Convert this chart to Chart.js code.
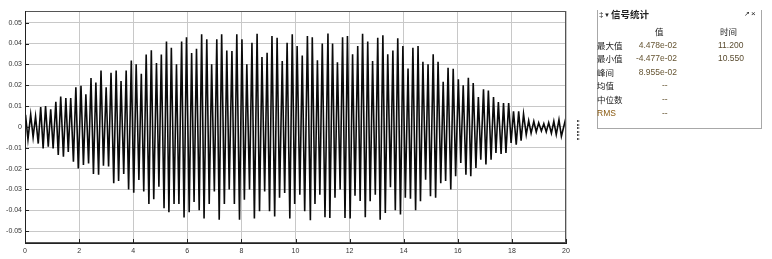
<!DOCTYPE html>
<html>
<head>
<meta charset="utf-8">
<script src="https://cdn.jsdelivr.net/npm/chart.js@4.4.1/dist/chart.umd.min.js"></script>
<style>
  body { margin: 0; background: #fff; width: 772px; height: 259px; position: relative; overflow: hidden; font-family: "Liberation Sans", Arial, sans-serif; }
  #grafik { position: absolute; left: 0; top: 0; }
  .panel { position: absolute; left: 597px; top: 10px; width: 165px; height: 119px; border: 1px solid #a8a8a8; border-top: none; box-sizing: border-box; }
  .t { position: absolute; font-size: 8.5px; line-height: 10px; white-space: nowrap; color: #222; }
  .cjk { font-family: "Noto Sans CJK SC", sans-serif; }
  .nilai { color: #665533; text-align: right; width: 50px; }
  .waktu { color: #5a4c30; }
  .tri { position: absolute; left: 577px; width: 0; height: 0; border-top: 1.5px solid transparent; border-bottom: 1.5px solid transparent; border-left: 3px solid #222; }
</style>
</head>
<body>
<canvas id="grafik" width="772" height="259"></canvas>

<!-- panel statistik sinyal -->
<div class="panel"></div>
<div class="t" style="left:599px; top:10px; font-size:8px;">‡</div>
<div class="t" style="left:604px; top:10px; font-size:6px;">▼</div>
<div class="t cjk" style="left:611px; top:9px; font-size:9.5px; font-weight:bold; line-height:11px;">信号统计</div>
<div class="t" style="left:744px; top:9px; font-size:7px;">↗</div>
<div class="t" style="left:751px; top:9px; font-size:8px;">×</div>

<div class="t cjk" style="left:655px; top:26px;">值</div>
<div class="t cjk" style="left:720px; top:26px;">时间</div>

<div class="t cjk" style="left:597px; top:40px;">最大值</div>
<div class="t nilai" style="left:627px; top:40px;">4.478e-02</div>
<div class="t waktu" style="left:718px; top:40px;">11.200</div>

<div class="t cjk" style="left:597px; top:53px;">最小值</div>
<div class="t nilai" style="left:627px; top:53px;">-4.477e-02</div>
<div class="t waktu" style="left:718px; top:53px;">10.550</div>

<div class="t cjk" style="left:597px; top:67px;">峰间</div>
<div class="t nilai" style="left:627px; top:67px;">8.955e-02</div>

<div class="t cjk" style="left:597px; top:80px;">均值</div>
<div class="t" style="left:662px; top:80px; color:#665533;">--</div>

<div class="t cjk" style="left:597px; top:94px;">中位数</div>
<div class="t" style="left:662px; top:94px; color:#665533;">--</div>

<div class="t" style="left:597px; top:108px; color:#8a5a10;">RMS</div>
<div class="t" style="left:662px; top:108px; color:#665533;">--</div>

<!-- penanda kecil di kanan plot -->
<div class="tri" style="top:120px;"></div>
<div class="tri" style="top:123.6px;"></div>
<div class="tri" style="top:127.2px;"></div>
<div class="tri" style="top:130.8px;"></div>
<div class="tri" style="top:134.4px;"></div>
<div class="tri" style="top:138px;"></div>

<script>
// DATA: puncak dan lembah sinyal
const waktuPuncak = [0.02, 0.21, 0.39, 0.58, 0.76, 0.95, 1.14, 1.32, 1.51, 1.69,
    1.88, 2.07, 2.25, 2.44, 2.62, 2.81, 3.00, 3.18, 3.37, 3.55,
    3.74, 3.93, 4.11, 4.30, 4.48, 4.67, 4.86, 5.04, 5.23, 5.41,
    5.60, 5.79, 5.97, 6.16, 6.34, 6.53, 6.72, 6.90, 7.09, 7.27,
    7.46, 7.65, 7.83, 8.02, 8.20, 8.39, 8.58, 8.76, 8.95, 9.13,
    9.32, 9.51, 9.69, 9.88, 10.06, 10.25, 10.44, 10.62, 10.81, 10.99,
    11.20, 11.37, 11.55, 11.74, 11.92, 12.11, 12.30, 12.48, 12.67, 12.85,
    13.04, 13.23, 13.41, 13.60, 13.78, 13.97, 14.16, 14.34, 14.53, 14.71,
    14.90, 15.09, 15.27, 15.46, 15.64, 15.83, 16.02, 16.20, 16.39, 16.57,
    16.76, 16.95, 17.13, 17.32, 17.50, 17.69, 17.88, 18.06, 18.25, 18.43,
    18.62, 18.81, 18.99, 19.18, 19.36, 19.55, 19.74, 20.00];

const nilaiPuncak = [0.0058, 0.006, 0.005, 0.0095, 0.010, 0.0085, 0.012, 0.0146, 0.0138, 0.0138,
    0.019, 0.0197, 0.0157, 0.0234, 0.0213, 0.027, 0.019, 0.026, 0.027, 0.022,
    0.027, 0.0318, 0.030, 0.0255, 0.0347, 0.0368, 0.0307, 0.0347, 0.041, 0.038,
    0.030, 0.041, 0.043, 0.0355, 0.0375, 0.0444, 0.042, 0.030, 0.042, 0.0444,
    0.0367, 0.0364, 0.0444, 0.042, 0.030, 0.0404, 0.0447, 0.0335, 0.0356, 0.0436,
    0.0428, 0.0316, 0.0404, 0.0445, 0.0388, 0.0343, 0.0436, 0.043, 0.032, 0.040,
    0.04478, 0.040, 0.031, 0.043, 0.0436, 0.0348, 0.0388, 0.0447, 0.041, 0.0316,
    0.0428, 0.044, 0.0348, 0.0367, 0.0425, 0.0388, 0.028, 0.038, 0.0388, 0.0312,
    0.030, 0.0348, 0.0312, 0.0216, 0.0284, 0.0279, 0.0228, 0.020, 0.0236, 0.021,
    0.0143, 0.018, 0.0175, 0.0143, 0.0119, 0.0115, 0.0115, 0.0075, 0.0075, 0.0062,
    0.003, 0.0027, 0.002, 0.0015, 0.002, 0.0027, 0.0035, 0.0045];

const waktuLembah = [0.11, 0.30, 0.49, 0.67, 0.86, 1.04, 1.23, 1.42, 1.60, 1.79,
    1.97, 2.16, 2.35, 2.53, 2.72, 2.90, 3.09, 3.28, 3.46, 3.65,
    3.83, 4.02, 4.21, 4.39, 4.58, 4.76, 4.95, 5.14, 5.32, 5.51,
    5.69, 5.88, 6.07, 6.25, 6.44, 6.62, 6.81, 7.00, 7.18, 7.37,
    7.55, 7.74, 7.93, 8.11, 8.30, 8.48, 8.67, 8.86, 9.04, 9.23,
    9.41, 9.60, 9.79, 9.97, 10.16, 10.34, 10.55, 10.72, 10.90, 11.09,
    11.27, 11.46, 11.65, 11.83, 12.02, 12.20, 12.39, 12.58, 12.76, 12.95,
    13.13, 13.32, 13.51, 13.69, 13.88, 14.06, 14.25, 14.44, 14.62, 14.81,
    14.99, 15.18, 15.37, 15.55, 15.74, 15.92, 16.11, 16.30, 16.48, 16.67,
    16.85, 17.04, 17.23, 17.41, 17.60, 17.78, 17.97, 18.16, 18.34, 18.53,
    18.71, 18.90, 19.09, 19.27, 19.46, 19.64, 19.83];

const nilaiLembah = [-0.006, -0.005, -0.008, -0.0103, -0.0095, -0.0103, -0.0135, -0.0143, -0.012, -0.0167,
    -0.020, -0.0183, -0.0175, -0.0226, -0.023, -0.0186, -0.019, -0.027, -0.026, -0.0226,
    -0.030, -0.0316, -0.0255, -0.031, -0.037, -0.0347, -0.0287, -0.039, -0.041, -0.037,
    -0.037, -0.0435, -0.041, -0.036, -0.040, -0.044, -0.037, -0.031, -0.0445, -0.037,
    -0.030, -0.037, -0.0445, -0.035, -0.030, -0.044, -0.0405, -0.031, -0.0405, -0.043,
    -0.034, -0.0317, -0.044, -0.037, -0.0325, -0.0405, -0.04477, -0.037, -0.0325, -0.0434,
    -0.0437, -0.034, -0.030, -0.0437, -0.044, -0.033, -0.0355, -0.0434, -0.0357, -0.0325,
    -0.0445, -0.0413, -0.029, -0.040, -0.042, -0.034, -0.0345, -0.040, -0.0357, -0.0253,
    -0.0333, -0.034, -0.027, -0.026, -0.030, -0.0237, -0.0173, -0.023, -0.0237, -0.0197,
    -0.0157, -0.018, -0.0157, -0.0125, -0.013, -0.0125, -0.0077, -0.0085, -0.0066, -0.0037,
    -0.003, -0.0024, -0.002, -0.0024, -0.003, -0.0037, -0.0045];

const tickX = [0, 2, 4, 6, 8, 10, 12, 14, 16, 18, 20];
const tickY = [-0.05, -0.04, -0.03, -0.02, -0.01, 0, 0.01, 0.02, 0.03, 0.04, 0.05];
const labelY = ['-0.05', '-0.04', '-0.03', '-0.02', '-0.01', '0', '0.01', '0.02', '0.03', '0.04', '0.05'];

// gabungkan puncak dan lembah jadi satu garis
const titik = [];
waktuPuncak.forEach((t, i) => titik.push({ x: t, y: nilaiPuncak[i] }));
waktuLembah.forEach((t, i) => titik.push({ x: t, y: nilaiLembah[i] }));
titik.sort((a, b) => a.x - b.x);

// bingkai plot + tick kecil di dalam
const bingkai = {
    id: 'bingkai',
    afterDraw(chart) {
        const { ctx, chartArea: a, scales } = chart;
        ctx.save();
        ctx.strokeStyle = '#555';
        ctx.lineWidth = 1;
        ctx.strokeRect(a.left + 0.5, a.top + 0.5, a.right - a.left - 1, a.bottom - a.top - 1);
        ctx.strokeStyle = '#222';
        ctx.beginPath();
        ctx.moveTo(a.left + 0.5, a.top);
        ctx.lineTo(a.left + 0.5, a.bottom + 0.5);
        ctx.lineTo(a.right, a.bottom + 0.5);
        tickY.forEach(v => {
            const y = Math.round(scales.y.getPixelForValue(v)) + 0.5;
            ctx.moveTo(a.left, y); ctx.lineTo(a.left + 4, y);
        });
        tickX.forEach(v => {
            const x = Math.round(scales.x.getPixelForValue(v)) + 0.5;
            ctx.moveTo(x, a.bottom); ctx.lineTo(x, a.bottom - 4);
        });
        ctx.stroke();
        ctx.restore();
    }
};

const hurufSumbu = { family: '"Liberation Sans", Arial, sans-serif', size: 7 };

new Chart(document.getElementById('grafik').getContext('2d'), {
    type: 'line',
    data: {
        datasets: [{
            data: titik,
            borderColor: '#0a0a0a',
            borderWidth: 1.6,
            pointRadius: 0,
            tension: 0,
            fill: false
        }]
    },
    options: {
        responsive: false,
        animation: false,
        devicePixelRatio: 1,
        layout: { padding: { top: 11, right: 206, bottom: 0, left: 0 } },
        plugins: { legend: { display: false }, tooltip: { enabled: false } },
        scales: {
            x: {
                type: 'linear', min: 0, max: 20,
                afterBuildTicks: s => { s.ticks = tickX.map(v => ({ value: v })); },
                afterFit: s => { s.height = 16; },
                grid: { color: '#c8c8c8', drawTicks: false },
                border: { color: '#222' },
                ticks: { padding: 4, font: hurufSumbu, color: '#333', maxRotation: 0, autoSkip: false }
            },
            y: {
                type: 'linear', min: -0.0557, max: 0.0556,
                afterBuildTicks: s => { s.ticks = tickY.map(v => ({ value: v })); },
                afterFit: s => { s.width = 25; },
                grid: { color: '#c8c8c8', drawTicks: false },
                border: { color: '#222' },
                ticks: { padding: 3, font: hurufSumbu, color: '#333', autoSkip: false,
                    callback: (v, i) => labelY[i] }
            }
        }
    },
    plugins: [bingkai]
});
</script>
</body>
</html>
